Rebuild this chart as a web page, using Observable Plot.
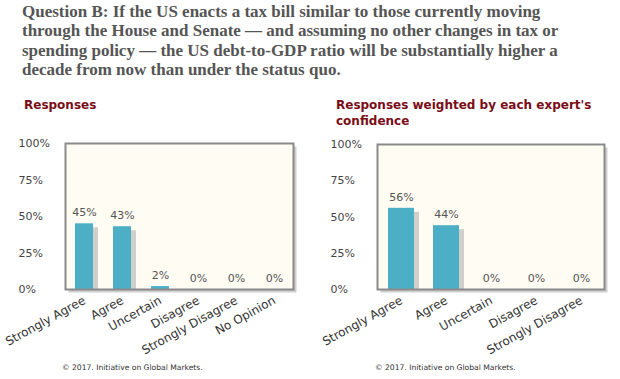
<!DOCTYPE html>
<html>
<head>
<meta charset="utf-8">
<script src="https://cdn.jsdelivr.net/npm/d3@7"></script>
<script src="https://cdn.jsdelivr.net/npm/@observablehq/plot@0.6"></script>
<style>
  html, body { margin:0; padding:0; background:#fff; }
  #wrap { position:relative; width:620px; height:379px; overflow:hidden; }
  #title { position:absolute; left:22px; top:2px; font-family:"Liberation Serif", serif; font-weight:bold; font-size:17px; line-height:19.4px; color:#555; white-space:nowrap; }
  .sub { position:absolute; font-family:"DejaVu Sans", sans-serif; font-weight:bold; font-size:12px; line-height:16px; color:#7a0c16; }
  .foot { position:absolute; font-family:"DejaVu Sans", sans-serif; font-size:7.6px; color:#333; top:363px; }
  .chart { position:absolute; top:130px; }
</style>
</head>
<body>
<div id="wrap">
  <div id="title">Question B: If the US enacts a tax bill similar to those currently moving<br>through the House and Senate — and assuming no other changes in tax or<br>spending policy — the US debt-to-GDP ratio will be substantially higher a<br>decade from now than under the status quo.</div>
  <div class="sub" style="left:24px;top:97px;">Responses</div>
  <div class="sub" style="left:336px;top:97px;">Responses weighted by each expert's<br>confidence</div>
  <div class="chart" id="c1" style="left:0px;"></div>
  <div class="chart" id="c2" style="left:310px;"></div>
  <div class="foot" style="left:62px;">© 2017. Initiative on Global Markets.</div>
  <div class="foot" style="left:375px;">© 2017. Initiative on Global Markets.</div>
</div>
<script>
const categories1 = ["Strongly Agree", "Agree", "Uncertain", "Disagree", "Strongly Disagree", "No Opinion"];
const values1 = [45, 43, 2, 0, 0, 0];
const categories2 = ["Strongly Agree", "Agree", "Uncertain", "Disagree", "Strongly Disagree"];
const values2 = [56, 44, 0, 0, 0];
const yTicks = [0, 25, 50, 75, 100];

function chart(cats, vals, opts) {
  const data = cats.map((c, i) => ({cat: c, v: vals[i]}));
  return Plot.plot({
    width: 310,
    height: 230,
    marginLeft: opts.marginLeft,
    marginRight: opts.marginRight,
    marginTop: opts.marginTop,
    marginBottom: 71,
    x: {domain: cats, paddingInner: opts.pad, paddingOuter: opts.pad / 2, label: null},
    y: {domain: [0, 100], label: null},
    style: {fontFamily: "DejaVu Sans, sans-serif", fontSize: "11px", color: "#444", background: "transparent", overflow: "visible"},
    marks: [
      Plot.frame({fill: "#cfcfcf", dx: 3, dy: 3}),
      Plot.frame({fill: "#fffcf3"}),
      Plot.barY(data, {x: "cat", y: "v", fill: "#999", fillOpacity: 0.45, dx: 5, dy: 4, clip: true}),
      Plot.barY(data, {x: "cat", y: "v", fill: "#4cafc5"}),
      Plot.text(data, {x: "cat", y: "v", text: d => d.v + "%", dy: -11, fill: "#555"}),
      Plot.frame({stroke: "#8a8a8a", strokeWidth: 2}),
      Plot.axisY({ticks: yTicks, tickFormat: d => d + "%", tickSize: 0, textAnchor: "start", dx: -38, fill: "#444", label: null}),
      Plot.axisX({tickSize: 0, tickRotate: -29, tickPadding: 10, fontSize: 12, fill: "#333", label: null})
    ]
  });
}

document.getElementById("c1").appendChild(chart(categories1, values1, {marginLeft: 65, marginRight: 17, marginTop: 13, pad: 0.53}));
document.getElementById("c2").appendChild(chart(categories2, values2, {marginLeft: 67, marginRight: 16, marginTop: 14, pad: 0.43}));
</script>
</body>
</html>
